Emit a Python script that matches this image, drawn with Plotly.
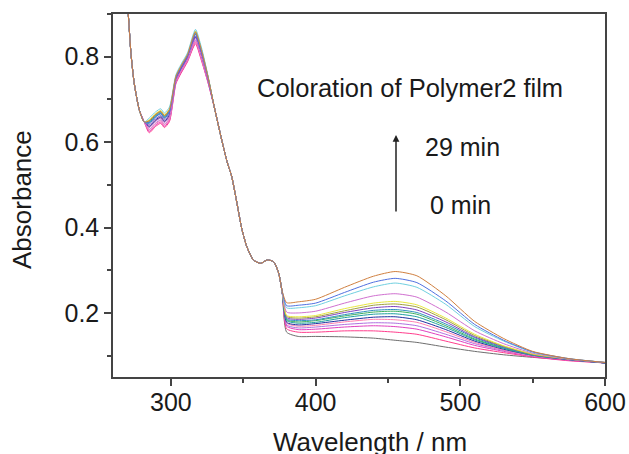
import plotly.graph_objects as go

# ---------------- data ----------------
# shared UV part (all spectra coincide here)
wl_head = [268.0, 270.5, 272.4, 274.7, 278.2, 281.6]
abs_head = [1.000, 0.902, 0.808, 0.737, 0.675, 0.647]

wl_mid = [285.0, 289.5, 293.0, 295.5, 299.0, 303.5, 307.0, 311.5, 317.0, 321.0, 325.5]

wl_tail = [330.0, 335.0, 339.0, 342.0, 345.5, 349.0, 352.5, 357.0, 362.0, 366.5, 371.0, 374.5]
abs_tail = [0.682, 0.607, 0.552, 0.520, 0.460, 0.397, 0.355, 0.324, 0.316, 0.324, 0.320, 0.293]

wl_vis = [377, 380, 388, 400, 420, 440, 455, 470, 490, 510, 530, 550, 575, 600]

# per-spectrum values, 0 min (bottom) ... 29 min (top)
mid_s00 = [0.635, 0.650, 0.657, 0.647, 0.661, 0.746, 0.772, 0.803, 0.860, 0.818, 0.755]
mid_s01 = [0.622, 0.637, 0.644, 0.634, 0.648, 0.737, 0.761, 0.788, 0.830, 0.792, 0.741]
mid_s02 = [0.625, 0.640, 0.647, 0.637, 0.651, 0.739, 0.763, 0.790, 0.833, 0.795, 0.742]
mid_s03 = [0.630, 0.645, 0.652, 0.642, 0.656, 0.742, 0.766, 0.793, 0.838, 0.799, 0.745]
mid_s04 = [0.628, 0.643, 0.650, 0.640, 0.654, 0.741, 0.765, 0.792, 0.836, 0.797, 0.744]
mid_s05 = [0.637, 0.652, 0.659, 0.649, 0.663, 0.746, 0.770, 0.797, 0.845, 0.805, 0.748]
mid_s06 = [0.644, 0.659, 0.666, 0.656, 0.670, 0.750, 0.774, 0.801, 0.852, 0.811, 0.752]
mid_s07 = [0.648, 0.663, 0.670, 0.660, 0.674, 0.753, 0.777, 0.804, 0.856, 0.815, 0.754]
mid_s08 = [0.646, 0.661, 0.668, 0.658, 0.672, 0.752, 0.776, 0.803, 0.854, 0.813, 0.753]
mid_s09 = [0.640, 0.655, 0.662, 0.652, 0.666, 0.748, 0.772, 0.799, 0.848, 0.808, 0.750]
mid_s10 = [0.650, 0.665, 0.672, 0.662, 0.676, 0.754, 0.778, 0.805, 0.858, 0.817, 0.755]
mid_s11 = [0.652, 0.667, 0.674, 0.664, 0.678, 0.755, 0.779, 0.806, 0.860, 0.819, 0.756]
mid_s12 = [0.634, 0.649, 0.656, 0.646, 0.660, 0.744, 0.768, 0.795, 0.842, 0.803, 0.747]
mid_s13 = [0.656, 0.671, 0.678, 0.668, 0.682, 0.758, 0.782, 0.809, 0.864, 0.823, 0.758]
mid_s14 = [0.645, 0.660, 0.667, 0.657, 0.671, 0.751, 0.775, 0.802, 0.853, 0.812, 0.753]
mid_s15 = [0.650, 0.665, 0.672, 0.662, 0.676, 0.754, 0.778, 0.805, 0.858, 0.817, 0.755]

vis_s00 = [0.245, 0.155, 0.145, 0.145, 0.144, 0.141, 0.136, 0.131, 0.120, 0.110, 0.102, 0.096, 0.090, 0.083]
vis_s01 = [0.246, 0.163, 0.155, 0.155, 0.158, 0.158, 0.155, 0.150, 0.134, 0.118, 0.107, 0.097, 0.088, 0.083]
vis_s02 = [0.246, 0.169, 0.161, 0.162, 0.167, 0.170, 0.168, 0.162, 0.144, 0.124, 0.110, 0.098, 0.089, 0.083]
vis_s03 = [0.246, 0.172, 0.165, 0.167, 0.173, 0.177, 0.176, 0.170, 0.150, 0.128, 0.112, 0.100, 0.091, 0.083]
vis_s04 = [0.247, 0.176, 0.169, 0.171, 0.179, 0.185, 0.184, 0.178, 0.156, 0.131, 0.113, 0.100, 0.091, 0.083]
vis_s05 = [0.247, 0.178, 0.172, 0.175, 0.183, 0.190, 0.191, 0.184, 0.161, 0.134, 0.115, 0.101, 0.091, 0.083]
vis_s06 = [0.247, 0.182, 0.176, 0.178, 0.189, 0.197, 0.198, 0.191, 0.166, 0.137, 0.117, 0.101, 0.091, 0.083]
vis_s07 = [0.247, 0.184, 0.179, 0.182, 0.193, 0.202, 0.204, 0.197, 0.170, 0.139, 0.118, 0.102, 0.091, 0.083]
vis_s08 = [0.247, 0.186, 0.182, 0.184, 0.196, 0.206, 0.208, 0.201, 0.174, 0.142, 0.119, 0.102, 0.091, 0.083]
vis_s09 = [0.247, 0.189, 0.185, 0.188, 0.201, 0.212, 0.215, 0.207, 0.179, 0.144, 0.121, 0.103, 0.091, 0.083]
vis_s10 = [0.248, 0.192, 0.188, 0.191, 0.205, 0.218, 0.221, 0.214, 0.184, 0.147, 0.122, 0.103, 0.092, 0.084]
vis_s11 = [0.248, 0.194, 0.191, 0.194, 0.210, 0.223, 0.227, 0.219, 0.188, 0.150, 0.123, 0.104, 0.092, 0.084]
vis_s12 = [0.248, 0.202, 0.200, 0.204, 0.223, 0.240, 0.245, 0.237, 0.202, 0.158, 0.128, 0.106, 0.092, 0.084]
vis_s13 = [0.249, 0.212, 0.212, 0.217, 0.240, 0.261, 0.270, 0.260, 0.220, 0.168, 0.134, 0.108, 0.093, 0.084]
vis_s14 = [0.250, 0.217, 0.218, 0.223, 0.248, 0.272, 0.281, 0.271, 0.228, 0.173, 0.136, 0.109, 0.093, 0.084]
vis_s15 = [0.250, 0.224, 0.226, 0.232, 0.260, 0.286, 0.297, 0.287, 0.240, 0.180, 0.140, 0.110, 0.093, 0.084]

series_mid = [mid_s00, mid_s01, mid_s02, mid_s03, mid_s04, mid_s05, mid_s06, mid_s07,
              mid_s08, mid_s09, mid_s10, mid_s11, mid_s12, mid_s13, mid_s14, mid_s15]
series_vis = [vis_s00, vis_s01, vis_s02, vis_s03, vis_s04, vis_s05, vis_s06, vis_s07,
              vis_s08, vis_s09, vis_s10, vis_s11, vis_s12, vis_s13, vis_s14, vis_s15]

line_colors = ["#6e6e6e", "#ff3c8c", "#e040c0", "#b070e0", "#ff80b0", "#2030a0",
               "#20a0a0", "#40b060", "#3090c0", "#8040c0", "#a0a040", "#e8e840",
               "#d070d0", "#70d0e0", "#5070e0", "#d08040"]

x_ticks = [300, 400, 500, 600]
y_ticks = [0.2, 0.4, 0.6, 0.8]

FONT = "Liberation Sans, Arial, sans-serif"
AX = "#444444"
TXT = "#1a1a1a"

# ---------------- figure ----------------
fig = go.Figure()
wl_all = wl_head + wl_mid + wl_tail + wl_vis
for mid, vis, col in zip(series_mid, series_vis, line_colors):
    fig.add_trace(go.Scatter(
        x=wl_all, y=abs_head + mid + abs_tail + vis,
        mode="lines", line=dict(color=col, width=1, shape="spline", smoothing=0.6),
        showlegend=False, hoverinfo="skip"))

L, R, T, B = 113, 24, 14, 77
W, H = 629, 454
pw, ph = W - L - R, H - T - B


def px(xp):
    return (xp - L) / pw


def py(yp):
    return (H - B - yp) / ph


fig.update_layout(
    width=W, height=H,
    margin=dict(l=L, r=R, t=T, b=B),
    paper_bgcolor="white", plot_bgcolor="white",
    font=dict(family=FONT, color=TXT, size=25),
    xaxis=dict(range=[260, 600], tickvals=x_ticks, ticks="outside", ticklen=7,
               tickwidth=1.5, tickcolor=AX, showline=True, linecolor=AX, linewidth=1.5,
               mirror=True, showgrid=False, zeroline=False, automargin=False,
               ticklabelstandoff=-5,
               tickfont=dict(family=FONT, size=25, color=TXT),
               minor=dict(ticks="outside", ticklen=4, tickwidth=1.5, tickcolor=AX,
                          dtick=50, tick0=300, showgrid=False)),
    yaxis=dict(range=[0.05, 0.9], tickvals=y_ticks, ticktext=["0.2", "0.4", "0.6", "0.8"],
               ticks="outside", ticklen=7,
               tickwidth=1.5, tickcolor=AX, showline=True, linecolor=AX, linewidth=1.5,
               mirror=True, showgrid=False, zeroline=False, automargin=False,
               tickfont=dict(family=FONT, size=25, color=TXT),
               minor=dict(ticks="outside", ticklen=4, tickwidth=1.5, tickcolor=AX,
                          dtick=0.1, tick0=0.1, showgrid=False)),
)

ann = [
    dict(text="Coloration of Polymer2 film", x=px(255), y=py(88), xanchor="left",
         yanchor="middle", font=dict(size=25.5)),
    dict(text="29 min", x=px(423), y=py(147), xanchor="left", yanchor="middle",
         font=dict(size=25)),
    dict(text="0 min", x=px(428), y=py(205), xanchor="left", yanchor="middle",
         font=dict(size=25)),
    dict(text="Absorbance", x=px(22), y=py(200), xanchor="center", yanchor="middle",
         textangle=-90, font=dict(size=26)),
    dict(text="Wavelength / nm", x=px(370), y=py(442), xanchor="center", yanchor="middle",
         font=dict(size=26)),
]
for a in ann:
    fig.add_annotation(xref="paper", yref="paper", showarrow=False, **a)

fig.add_annotation(xref="paper", yref="paper", x=px(396), y=py(135), text="",
                   showarrow=True, ax=0, ay=78, arrowhead=2, arrowsize=0.9,
                   arrowwidth=1.5, arrowcolor="#222222")

fig.write_html("out.html", config={"displayModeBar": False},
               post_script="document.body.style.margin='0';document.body.style.overflow='hidden';")
